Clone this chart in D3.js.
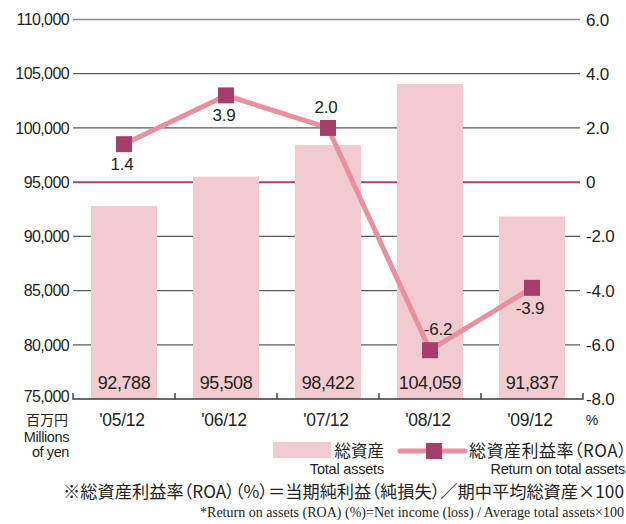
<!DOCTYPE html>
<html><head><meta charset="utf-8">
<script src="https://cdn.jsdelivr.net/npm/d3@7/dist/d3.min.js"></script>
<style>
html,body{margin:0;padding:0;background:#fff;}
svg{display:block;}
text{font-family:"Liberation Sans",Arial,sans-serif;fill:#231f20;}
.cjk{font-family:"Noto Sans CJK JP",sans-serif;font-feature-settings:"palt";}
</style></head>
<body>
<svg id="chart" width="626" height="524"></svg>
<script>
// ---- data ----
const categories = ["'05/12", "'06/12", "'07/12", "'08/12", "'09/12"];
const totalAssets = [92788, 95508, 98422, 104059, 91837];
const roaLabels = [1.4, 3.9, 2.0, -6.2, -3.9];
const roaPlotted = [1.4, 3.2, 2.0, -6.2, -3.9]; // marker positions as drawn in the source
const leftTicks = [75000, 80000, 85000, 90000, 95000, 100000, 105000, 110000];
const rightTicks = [-8, -6, -4, -2, 0, 2, 4, 6];
const roaLabelSide = ["below", "below", "above", "above", "below"];

// ---- layout ----
const svg = d3.select("#chart");
const X0 = 73, X1 = 583, Y0 = 399, Y1 = 19.5;
const x = d3.scaleBand().domain(categories).range([X0, X1]).paddingInner(0.353).paddingOuter(0.1765);
const yL = d3.scaleLinear().domain([75000, 110000]).range([Y0, Y1]);
const yR = d3.scaleLinear().domain([-8, 6]).range([Y0, Y1]);
const fmt = d3.format(",");
const C = {bar:"#f1cbd1", line:"#e8909f", marker:"#a63e6c", zero:"#a8407a", grid:"#5a5a5a"};

// gridlines
svg.append("g").selectAll("line").data(leftTicks.filter(d => d > 75000 && d !== 95000)).join("line")
  .attr("x1", X0).attr("x2", 580).attr("y1", d => yL(d)).attr("y2", d => yL(d))
  .attr("stroke", d => d === 110000 ? "#8a8a8a" : C.grid).attr("stroke-width", 1.3);
// zero line
svg.append("line").attr("x1", X0).attr("x2", 580).attr("y1", yR(0)).attr("y2", yR(0))
  .attr("stroke", C.zero).attr("stroke-width", 2);

// bars
svg.append("g").selectAll("rect").data(totalAssets).join("rect")
  .attr("x", (d, i) => x(categories[i])).attr("width", x.bandwidth())
  .attr("y", d => yL(d)).attr("height", d => Y0 - yL(d)).attr("fill", C.bar);

// bottom axis with ticks
svg.append("path").attr("d", `M${X0},${Y0-6}V${Y0}H${X1}V${Y0-6}`).attr("fill","none").attr("stroke","#3a3a3a").attr("stroke-width",1.4);
svg.append("g").selectAll("line").data(categories.slice(1)).join("line")
  .attr("x1", d => x(d) - x.step()*x.paddingInner()/2).attr("x2", d => x(d) - x.step()*x.paddingInner()/2)
  .attr("y1", Y0).attr("y2", Y0-6).attr("stroke","#3a3a3a").attr("stroke-width",1.4);

// bar value labels
svg.append("g").selectAll("text").data(totalAssets).join("text")
  .attr("x", (d, i) => x(categories[i]) + x.bandwidth()/2).attr("y", 389)
  .attr("text-anchor","middle").attr("font-size", 18).attr("letter-spacing", -0.4)
  .text(d => fmt(d));

// left axis labels
svg.append("g").selectAll("text").data(leftTicks).join("text")
  .attr("x", 69).attr("y", d => yL(d)).attr("dy", d => d === 75000 ? "0.2em" : "0.36em")
  .attr("text-anchor","end").attr("font-size", 16).attr("letter-spacing", -0.6)
  .text(d => fmt(d));
// right axis labels
svg.append("g").selectAll("text").data(rightTicks).join("text")
  .attr("x", 586).attr("y", d => yR(d)).attr("dy", "0.36em")
  .attr("font-size", 17).attr("letter-spacing", -0.2)
  .text(d => d === 0 ? "0" : d.toFixed(1));

// x category labels
svg.append("g").selectAll("text").data(categories).join("text")
  .attr("x", d => x(d) + x.bandwidth()/2 - 2).attr("y", 426)
  .attr("text-anchor","middle").attr("font-size", 17.5).attr("letter-spacing", -0.3)
  .text(d => d);
svg.append("text").attr("x", 592).attr("y", 425).attr("text-anchor","middle").attr("font-size", 14).text("%");

// unit labels
svg.append("text").attr("class","cjk").attr("x", 68).attr("y", 425).attr("text-anchor","end").attr("font-size", 14).text("百万円");
svg.append("text").attr("x", 69).attr("y", 442).attr("text-anchor","end").attr("font-size", 14.5).attr("letter-spacing",-0.4).text("Millions");
svg.append("text").attr("x", 69).attr("y", 457).attr("text-anchor","end").attr("font-size", 14.5).attr("letter-spacing",-0.4).text("of yen");

// ROA line
const line = d3.line().x((d, i) => x(categories[i]) + x.bandwidth()/2).y(d => yR(d));
svg.append("path").datum(roaPlotted).attr("d", line).attr("fill","none")
  .attr("stroke", C.line).attr("stroke-width", 5).attr("stroke-linejoin","round");
svg.append("g").selectAll("rect").data(roaPlotted).join("rect")
  .attr("x", (d, i) => x(categories[i]) + x.bandwidth()/2 - 8).attr("y", d => yR(d) - 8)
  .attr("width", 16).attr("height", 16).attr("fill", C.marker);
svg.append("g").selectAll("text").data(roaLabels).join("text")
  .attr("x", (d, i) => x(categories[i]) + x.bandwidth()/2 + (d < 0 && roaLabelSide[i] === "above" ? 8 : -2))
  .attr("y", (d, i) => yR(roaPlotted[i]) + (roaLabelSide[i] === "below" ? 26 : -15))
  .attr("text-anchor","middle").attr("font-size", 17).attr("letter-spacing", -0.2)
  .text(d => d.toFixed(1));

// legend
svg.append("rect").attr("x", 273).attr("y", 442).attr("width", 58).attr("height", 16).attr("fill", C.bar);
svg.append("text").attr("class","cjk").attr("x", 384).attr("y", 457).attr("text-anchor","end").attr("font-size", 16.5).text("総資産");
svg.append("text").attr("x", 384).attr("y", 474).attr("text-anchor","end").attr("font-size", 14.5).attr("letter-spacing",-0.2).text("Total assets");
svg.append("line").attr("x1", 400).attr("x2", 465).attr("y1", 451).attr("y2", 451).attr("stroke", C.line).attr("stroke-width", 5).attr("stroke-linecap","round");
svg.append("rect").attr("x", 426).attr("y", 443).attr("width", 16).attr("height", 16).attr("fill", C.marker);
svg.append("text").attr("class","cjk").attr("x", 469).attr("y", 457).attr("font-size", 17).attr("letter-spacing", 0.5).text("総資産利益率（ROA）");
svg.append("text").attr("x", 625).attr("y", 474).attr("text-anchor","end").attr("font-size", 14.5).attr("letter-spacing",-0.3).text("Return on total assets");

// footnotes
svg.append("text").attr("class","cjk").attr("x", 63).attr("y", 498).attr("font-size", 17.3)
  .text("※総資産利益率（ROA）（%）＝当期純利益（純損失）／期中平均総資産×100")
  .each(function() {
    const w = this.getComputedTextLength();
    if (w > 561) d3.select(this).attr("textLength", 561).attr("lengthAdjust","spacingAndGlyphs");
  });
svg.append("text").attr("x", 200).attr("y", 517).attr("font-size", 14)
  .style("font-family","'Liberation Serif','Times New Roman',serif")
  .attr("textLength", 424).attr("lengthAdjust","spacingAndGlyphs")
  .text("*Return on assets (ROA) (%)=Net income (loss) / Average total assets×100");
</script>
</body></html>
